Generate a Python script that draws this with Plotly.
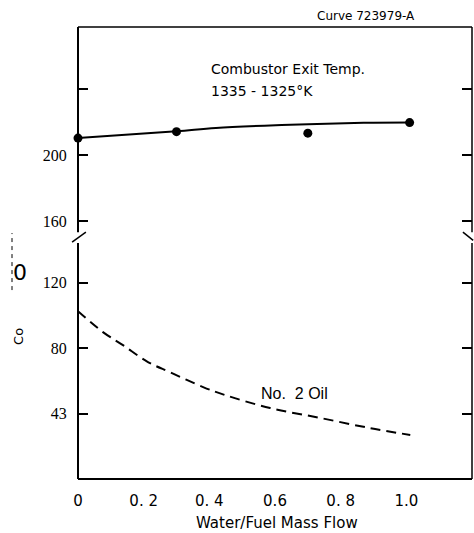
import plotly.graph_objects as go

# ---- data ----
temp_x = [0.0, 0.3, 0.7, 1.01]
temp_y = [210.3, 214.2, 213.3, 219.7]

temp_fit_x = [0.0, 0.3, 0.42, 0.62, 0.87, 1.01]
temp_fit_y = [210.3, 214.5, 216.5, 218.2, 219.6, 219.8]

oil_x = [0.0, 0.076, 0.137, 0.213, 0.280, 0.381, 0.448, 0.585, 0.738, 0.890, 1.012]
oil_y = [102.6, 89.8, 81.8, 71.5, 65.3, 56.2, 51.3, 43.4, 37.3, 31.1, 26.9]

x_tickvals = [0, 0.2, 0.4, 0.6, 0.8, 1.0]
x_ticktext = ["0", "0. 2", "0. 4", "0.6", "0. 8", "1.0"]
y_low_tickvals = [40, 80, 120]
y_low_ticktext = ["43", "80", "120"]
y_up_tickvals = [160, 200, 240]
y_up_ticktext = ["160", "200", ""]

SANS = "DejaVu Sans, Verdana, sans-serif"
SERIF = "Liberation Serif, Times New Roman, serif"
BREAK = 0.535

fig = go.Figure()

fig.add_trace(go.Scatter(x=temp_fit_x, y=temp_fit_y, mode="lines", line=dict(color="black", width=2, shape="spline"),
                         xaxis="x", yaxis="y2", hoverinfo="skip", cliponaxis=False))
fig.add_trace(go.Scatter(x=temp_x, y=temp_y, mode="markers", marker=dict(color="black", size=9),
                         xaxis="x", yaxis="y2", cliponaxis=False))
fig.add_trace(go.Scatter(x=oil_x, y=oil_y, mode="lines", line=dict(color="black", width=2, dash="10px,6px", shape="spline"),
                         xaxis="x", yaxis="y", cliponaxis=False))

common_ax = dict(showgrid=False, zeroline=False, tickcolor="black", tickwidth=1.5)

fig.update_layout(
    width=474, height=533,
    margin=dict(l=78, r=2, t=27, b=54),
    plot_bgcolor="white", paper_bgcolor="white",
    showlegend=False,
    xaxis=dict(domain=[0, 1], range=[0, 1.2], anchor="y", tickvals=x_tickvals, ticktext=x_ticktext,
               ticks="", showline=False, tickfont=dict(family=SANS, size=15, color="black"),
               ticklabelstandoff=11, **common_ax),
    xaxis3=dict(overlaying="x", range=[0, 1.2], anchor="y", tickvals=[0.4, 0.6, 0.8, 1.0],
                ticks="inside", ticklen=10, showticklabels=False, showline=False, **common_ax),
    xaxis2=dict(matches="x", range=[0, 1.2], anchor="y2", side="top", tickvals=[0.2, 0.4, 0.6, 0.8, 1.0],
                ticks="inside", ticklen=10, showticklabels=False, showline=False, **common_ax),
    yaxis=dict(domain=[0, BREAK], range=[0, 147.8], anchor="x", tickvals=y_low_tickvals, ticktext=y_low_ticktext,
               ticks="inside", ticklen=10, showline=True, linecolor="rgba(0,0,0,0)", mirror="ticks",
               tickfont=dict(family=SERIF, size=16, color="black"), ticklabelstandoff=7, **common_ax),
    yaxis2=dict(domain=[BREAK, 1], range=[150.3, 277.6], anchor="x", tickvals=y_up_tickvals, ticktext=y_up_ticktext,
                ticks="inside", ticklen=10, showline=True, linecolor="rgba(0,0,0,0)", mirror="ticks",
                tickfont=dict(family=SERIF, size=16, color="black"), ticklabelstandoff=7, **common_ax),
)

# frame with axis-break marks
def seg(x0, y0, x1, y1, w=2):
    fig.add_shape(type="line", xref="paper", yref="paper", x0=x0, y0=y0, x1=x1, y1=y1,
                  line=dict(color="black", width=w))

seg(0, 0, 1, 0, 2)          # bottom
seg(0, 1, 1, 1, 1.5)        # top
seg(0, 0, 0, 0.522, 2)      # left lower
seg(0, 0.546, 0, 1, 2)      # left upper
seg(-0.015, 0.524, 0.020, 0.546, 1.5)
seg(1, 0, 1, 0.522, 1.5)    # right lower
seg(1, 0.546, 1, 1, 1.5)    # right upper
seg(0.977, 0.546, 1.003, 0.528, 1.5)
fig.add_shape(type="line", xref="paper", yref="paper", x0=-0.1675, y0=0.418, x1=-0.1675, y1=0.544,
              line=dict(color="black", width=1, dash="4px,4px"))

ann = [
    dict(text="Curve 723979-A", x=0.730, y=1.024, xref="paper", yref="paper", font=dict(size=12, family=SANS)),
    dict(text="Combustor Exit Temp.", x=0.4, y=252, xref="x", yref="y2", xanchor="left", font=dict(size=14, family=SANS)),
    dict(text="1335 - 1325°K", x=0.4, y=238.8, xref="x", yref="y2", xanchor="left", font=dict(size=14, family=SANS)),
    dict(text="No.  2 Oil", x=0.66, y=52.5, xref="x", yref="y", font=dict(size=16, family="Liberation Sans, Arial, sans-serif")),
    dict(text="Water/Fuel Mass Flow", x=0.505, y=-0.098, xref="paper", yref="paper", font=dict(size=15, family=SANS)),
    dict(text="0", x=-0.147, y=0.456, xref="paper", yref="paper", font=dict(size=22, family=SANS)),
    dict(text="Co", x=-0.153, y=0.316, xref="paper", yref="paper", textangle=-90, font=dict(size=13, family=SANS)),
]
for a in ann:
    a.setdefault("showarrow", False)
    a.setdefault("xanchor", "center")
    a.setdefault("yanchor", "middle")
    a["font"]["color"] = "black"
    fig.add_annotation(**a)

fig.write_html("out.html")
